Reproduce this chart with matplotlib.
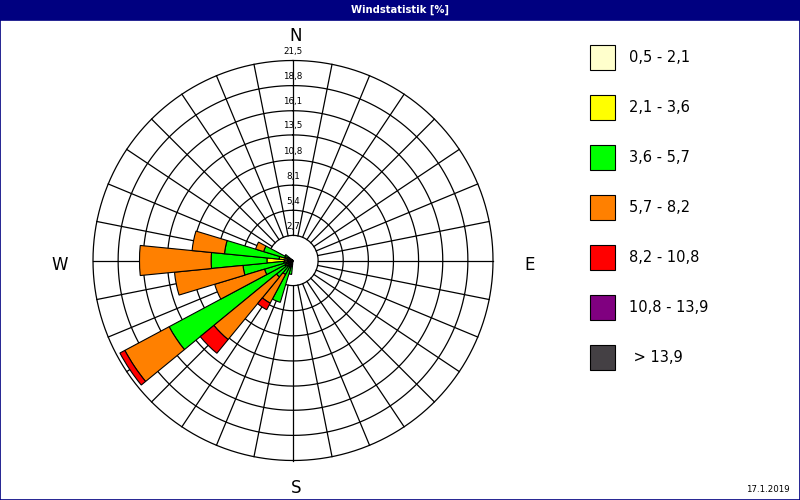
import numpy as np
import matplotlib
matplotlib.use("Agg")
import matplotlib.pyplot as plt
from matplotlib.patches import Rectangle
from matplotlib.transforms import offset_copy

plt.rcParams['font.family'] = ['DejaVu Sans']

# --- data: frequency [%] per direction (32 sectors, 11.25 deg, index 0 = N, clockwise)
n_dir = 32
dir_deg = [i * 360.0 / n_dir for i in range(n_dir)]

def sector(vals):
    # vals: dict index -> percent
    out = [0.0] * n_dir
    for k, v in vals.items():
        out[k] = v
    return out

cls_05_21 = sector({17: 0.4, 18: 0.4, 19: 0.4, 20: 0.4, 21: 0.5, 22: 0.4,
                    23: 0.5, 24: 0.9, 25: 0.5, 26: 0.4, 27: 0.3})
cls_21_36 = sector({17: 0.2, 18: 0.4, 19: 0.3, 20: 0.4, 21: 0.5, 22: 0.4,
                    23: 0.5, 24: 1.9, 25: 1.0, 26: 0.5, 27: 0.2})
cls_36_57 = sector({17: 0.9, 18: 3.9, 19: 1.0, 20: 1.5, 21: 14.1, 22: 2.4,
                    23: 4.4, 24: 6.0, 25: 5.9, 26: 2.4, 27: 0.5})
cls_57_82 = sector({19: 3.5, 20: 8.7, 21: 5.4, 22: 5.6, 23: 7.4, 24: 7.7,
                    25: 3.5, 26: 0.9})
cls_82_108 = sector({19: 0.8, 20: 1.9, 21: 0.6})
cls_108_139 = sector({})
cls_139 = sector({})

classes = [cls_05_21, cls_21_36, cls_36_57, cls_57_82, cls_82_108, cls_108_139, cls_139]
class_labels = ["0,5 - 2,1", "2,1 - 3,6", "3,6 - 5,7", "5,7 - 8,2",
                "8,2 - 10,8", "10,8 - 13,9", " > 13,9"]
class_colors = ["#FFFFCC", "#FFFF00", "#00FF00", "#FF8000",
                "#FF0000", "#800080", "#444044"]

ring_values = [2.7, 5.4, 8.1, 10.8, 13.5, 16.1, 18.8, 21.5]
ring_labels = ["2,7", "5,4", "8,1", "10,8", "13,5", "16,1", "18,8", "21,5"]
r_max = 21.5

W, H = 800, 500
def fx(px): return px / W
def fy(py): return 1 - py / H

fig = plt.figure(figsize=(8, 5), dpi=100)

# title bar
fig.patches.append(Rectangle((0, fy(20)), 1, 20 / H, transform=fig.transFigure,
                             facecolor="#000080", edgecolor="none"))
fig.patches.append(Rectangle((0.0005, 0.001), 0.999, fy(20) - 0.001, transform=fig.transFigure,
                             facecolor="none", edgecolor="#000080", lw=1.2))
fig.text(0.5, fy(10), "Windstatistik [%]", color="white", fontsize=7.2,
         fontweight="bold", ha="center", va="center")

# polar axes: center (293, 260.5) px, radius 200 px
cx, cy, rad = 293, 260.5, 200
ax = fig.add_axes([fx(cx - rad), fy(cy + rad), 2 * rad / W, 2 * rad / H], projection="polar")
ax.set_theta_zero_location("N")
ax.set_theta_direction(-1)
ax.set_ylim(0, r_max)
ax.axis("off")

# grid
full = np.linspace(0, 2 * np.pi, 721)
for rv in ring_values:
    ax.plot(full, [rv] * len(full), color="black", lw=0.9, zorder=1, clip_on=False)
for d in dir_deg:
    t = np.deg2rad(d)
    ax.plot([t, t], [ring_values[0], r_max], color="black", lw=0.9, zorder=1, clip_on=False)

lab_tr = offset_copy(ax.transData, fig=fig, x=0, y=9, units="dots")
for rv, lab in zip(ring_values, ring_labels):
    ax.text(0, rv, lab, transform=lab_tr, ha="center", va="center", fontsize=6.3, zorder=1)

# stacked sectors
width = 2 * np.pi / n_dir
bottom = np.zeros(n_dir)
for vals, col in zip(classes, class_colors):
    vals = np.array(vals)
    for i in range(n_dir):
        if vals[i] > 0:
            ax.bar(np.deg2rad(dir_deg[i]), vals[i], width=width, bottom=bottom[i],
                   color=col, edgecolor="black", lw=0.8, zorder=3)
    bottom += vals

# compass labels
for txt, px, py in [("N", 296, 36), ("W", 60, 265), ("E", 530, 265), ("S", 296, 488)]:
    fig.text(fx(px), fy(py), txt, fontsize=12, ha="center", va="center")

# legend
for k, (lab, col) in enumerate(zip(class_labels, class_colors)):
    top = 45 + 50 * k
    fig.patches.append(Rectangle((fx(590), fy(top + 25)), 25 / W, 25 / H,
                                 transform=fig.transFigure, facecolor=col,
                                 edgecolor="black", lw=0.8))
    fig.text(fx(629), fy(top + 12.5), lab, fontsize=10.5, ha="left", va="center")

fig.text(fx(790), fy(490), "17.1.2019", fontsize=6.2, ha="right", va="center")

fig.savefig("out.png", dpi=100, facecolor="white")
